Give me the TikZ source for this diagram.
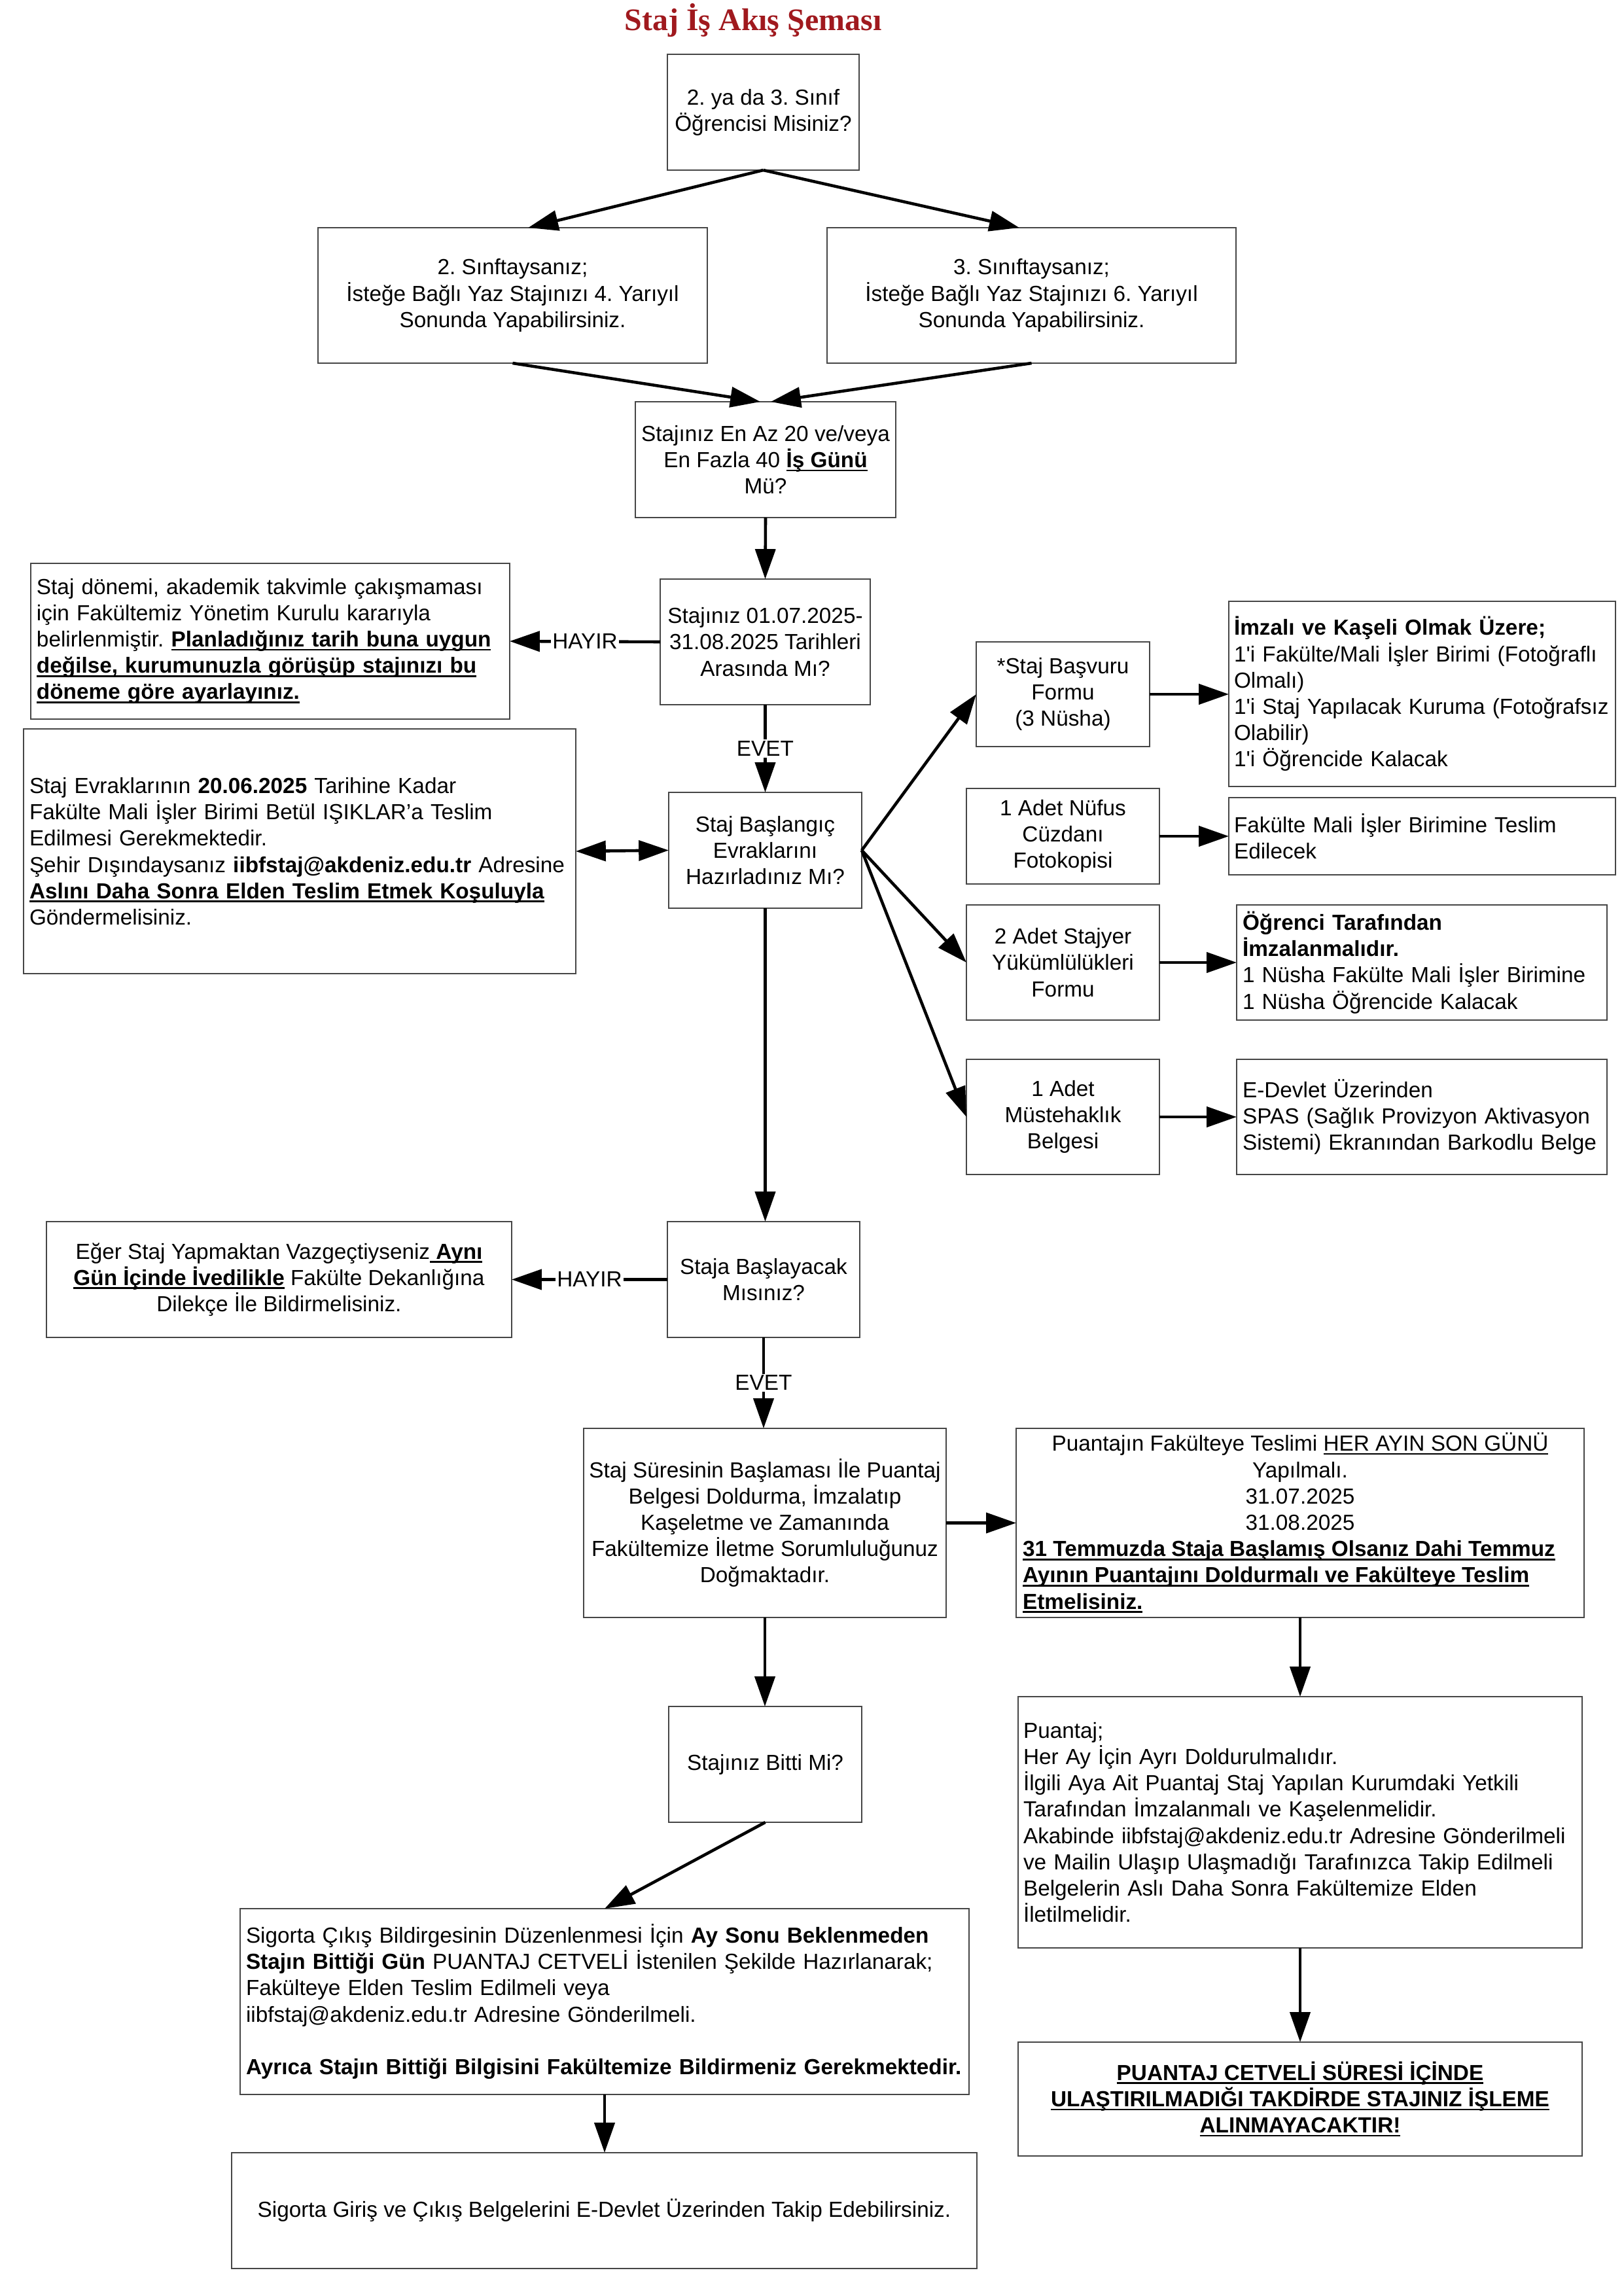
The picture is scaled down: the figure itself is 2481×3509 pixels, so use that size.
\documentclass[tikz,border=0pt]{standalone}
\usepackage{fontspec}
\setmainfont{Liberation Sans}
\newfontfamily\titlefont{Liberation Serif}
\newfontfamily\plainfont{Liberation Sans}
\usetikzlibrary{arrows.meta,calc}
\definecolor{titlered}{RGB}{160,25,30}
\definecolor{boxline}{RGB}{70,70,70}
\frenchspacing
\newsavebox\ulbox
\newcommand{\myul}[1]{\leavevmode\sbox\ulbox{#1}\rlap{\rule[-1.3pt]{\wd\ulbox}{0.5pt}}\usebox\ulbox}
\newcommand{\ub}[1]{\leavevmode\sbox\ulbox{\textbf{#1}}\rlap{\rule[-1.4pt]{\wd\ulbox}{0.65pt}}\usebox\ulbox}
\newcommand{\apo}{{\plainfont'}}
\newcommand{\mkbox}[6]{\node[box,#6,minimum width={(#4-#2)*0.24pt},minimum height={(#5-#3)*0.24pt}] (#1) at ({(#2+#4)/2},{(#3+#5)/2})}
\begin{document}
\begin{tikzpicture}[x=0.24pt,y=-0.24pt,
  font=\fontsize{8}{9.65}\selectfont\frenchspacing,
  box/.style={draw=boxline,line width=0.4pt,inner sep=0pt,outer sep=0pt,align=center},
  lbox/.style={box,align=left},
  arr/.style={line width=1.1pt,-{Triangle[length=11pt,width=7.4pt]}},
  dbl/.style={line width=1.1pt,{Triangle[length=11pt,width=7.4pt]}-{Triangle[length=11pt,width=7.4pt]}},
  lbl/.style={fill=white,inner sep=0.6pt}]
\useasboundingbox (0,0) rectangle (2481,3509);

\node[font=\titlefont\bfseries\fontsize{11.5}{13}\selectfont,text=titlered] (title) at (1151,31) {Staj İş Akış Şeması};

\mkbox{b1}{1020}{83}{1313}{260}{} {2. ya da 3. Sınıf\\Öğrencisi Misiniz?};
\mkbox{b2}{486}{348}{1081}{555}{} {2. Sınftaysanız;\\İsteğe Bağlı Yaz Stajınızı 4. Yarıyıl\\Sonunda Yapabilirsiniz.};
\mkbox{b3}{1264}{348}{1889}{555}{} {3. Sınıftaysanız;\\İsteğe Bağlı Yaz Stajınızı 6. Yarıyıl\\Sonunda Yapabilirsiniz.};
\mkbox{b4}{971}{614}{1369}{791}{} {Stajınız En Az 20 ve/veya\\En Fazla 40 \ub{İş Günü}\\Mü?};
\mkbox{donem}{47}{861}{779}{1099}{lbox,text width={(732-18)*0.24pt}} {Staj dönemi, akademik takvimle çakışmaması\\için Fakültemiz Yönetim Kurulu kararıyla\\belirlenmiştir. \ub{Planladığınız tarih buna uygun}\\\ub{değilse, kurumunuzla görüşüp stajınızı bu}\\\ub{döneme göre ayarlayınız.}};
\mkbox{tarih}{1009}{885}{1330}{1077}{} {Stajınız 01.07.2025-\\31.08.2025 Tarihleri\\Arasında Mı?};
\mkbox{evrak}{36}{1114}{880}{1488}{lbox,text width={(844-18)*0.24pt}} {Staj Evraklarının \textbf{20.06.2025} Tarihine Kadar\\Fakülte Mali İşler Birimi Betül IŞIKLAR’a Teslim\\Edilmesi Gerekmektedir.\\Şehir Dışındaysanız \textbf{iibfstaj@akdeniz.edu.tr} Adresine\\\ub{Aslını Daha Sonra Elden Teslim Etmek Koşuluyla}\\Göndermelisiniz.};
\mkbox{basl}{1022}{1211}{1317}{1388}{} {Staj Başlangıç\\Evraklarını\\Hazırladınız Mı?};
\mkbox{basv}{1492}{981}{1757}{1141}{} {*Staj Başvuru\\Formu\\(3 Nüsha)};
\mkbox{imza}{1878}{919}{2469}{1202}{lbox,text width={(591-16)*0.24pt}} {\textbf{İmzalı ve Kaşeli Olmak Üzere;}\\1\apo i Fakülte/Mali İşler Birimi (Fotoğraflı\\Olmalı)\\1\apo i Staj Yapılacak Kuruma (Fotoğrafsız\\Olabilir)\\1\apo i Öğrencide Kalacak};
\mkbox{nufus}{1477}{1205}{1772}{1351}{} {1 Adet Nüfus\\Cüzdanı\\Fotokopisi};
\mkbox{fak}{1878}{1219}{2469}{1337}{lbox,text width={(591-16)*0.24pt}} {Fakülte Mali İşler Birimine Teslim\\Edilecek};
\mkbox{adet2}{1477}{1383}{1772}{1559}{} {2 Adet Stajyer\\Yükümlülükleri\\Formu};
\mkbox{ogr}{1890}{1383}{2456}{1559}{lbox,text width={(566-18)*0.24pt}} {\textbf{Öğrenci Tarafından}\\\textbf{İmzalanmalıdır.}\\1 Nüsha Fakülte Mali İşler Birimine\\1 Nüsha Öğrencide Kalacak};
\mkbox{must}{1477}{1619}{1772}{1795}{} {1 Adet\\Müstehaklık\\Belgesi};
\mkbox{edev}{1890}{1619}{2456}{1795}{lbox,text width={(566-18)*0.24pt}} {E-Devlet Üzerinden\\SPAS (Sağlık Provizyon Aktivasyon\\Sistemi) Ekranından Barkodlu Belge};
\mkbox{eger}{71}{1867}{782}{2044}{} {Eğer Staj Yapmaktan Vazgeçtiyseniz\ub{ Aynı}\\\ub{Gün İçinde İvedilikle} Fakülte Dekanlığına\\Dilekçe İle Bildirmelisiniz.};
\mkbox{staja}{1020}{1867}{1314}{2044}{} {Staja Başlayacak\\Mısınız?};
\mkbox{sure}{892}{2183}{1446}{2472}{} {Staj Süresinin Başlaması İle Puantaj\\Belgesi Doldurma, İmzalatıp\\Kaşeletme ve Zamanında\\Fakültemize İletme Sorumluluğunuz\\Doğmaktadır.};
\mkbox{puan1}{1553}{2183}{2421}{2472}{} {Puantajın Fakülteye Teslimi \myul{HER AYIN SON GÜNÜ}\\Yapılmalı.\\31.07.2025\\31.08.2025\\\makebox[203.5pt][l]{\ub{31 Temmuzda Staja Başlamış Olsanız Dahi Temmuz}}\\\makebox[203.5pt][l]{\ub{Ayının Puantajını Doldurmalı ve Fakülteye Teslim}}\\\makebox[203.5pt][l]{\ub{Etmelisiniz.}}};
\mkbox{puan2}{1556}{2593}{2418}{2977}{lbox,text width={(862-16)*0.24pt}} {Puantaj;\\Her Ay İçin Ayrı Doldurulmalıdır.\\İlgili Aya Ait Puantaj Staj Yapılan Kurumdaki Yetkili\\Tarafından İmzalanmalı ve Kaşelenmelidir.\\Akabinde iibfstaj@akdeniz.edu.tr Adresine Gönderilmeli\\ve Mailin Ulaşıp Ulaşmadığı Tarafınızca Takip Edilmeli\\Belgelerin Aslı Daha Sonra Fakültemize Elden\\İletilmelidir.};
\mkbox{cetvel}{1556}{3121}{2418}{3295}{} {\ub{PUANTAJ CETVELİ SÜRESİ İÇİNDE}\\\ub{ULAŞTIRILMADIĞI TAKDİRDE STAJINIZ İŞLEME}\\\ub{ALINMAYACAKTIR!}};
\mkbox{bitti}{1022}{2608}{1317}{2785}{} {Stajınız Bitti Mi?};
\mkbox{cikis}{367}{2917}{1481}{3201}{lbox,text width={(1114-18)*0.24pt}} {Sigorta Çıkış Bildirgesinin Düzenlenmesi İçin \textbf{Ay Sonu Beklenmeden}\\\textbf{Stajın Bittiği Gün} PUANTAJ CETVELİ İstenilen Şekilde Hazırlanarak;\\Fakülteye Elden Teslim Edilmeli veya\\iibfstaj@akdeniz.edu.tr Adresine Gönderilmeli.\\[9.65pt]\textbf{Ayrıca Stajın Bittiği Bilgisini Fakültemize Bildirmeniz Gerekmektedir.}};
\mkbox{giris}{354}{3290}{1493}{3467}{} {Sigorta Giriş ve Çıkış Belgelerini E-Devlet Üzerinden Takip Edebilirsiniz.};

\draw[arr] (b1.south) -- ($(b2.north west)!0.54!(b2.north east)$);
\draw[arr] (b1.south) -- ($(b3.north west)!0.47!(b3.north east)$);
\draw[arr] (b2.south) -- ($(b4.north)+(-8,0)$);
\draw[arr] (b3.south) -- ($(b4.north)+(8,0)$);
\draw[arr] (b4.south) -- (tarih.north);
\draw[arr] (tarih.west) -- node[lbl]{HAYIR} (donem.east);
\draw[arr] (tarih.south) -- node[lbl]{EVET} (basl.north);
\draw[dbl] (evrak.east) -- (basl.west);
\draw[arr] (basl.east) -- (basv.west);
\draw[arr] (basl.east) -- (adet2.west);
\draw[arr] (basl.east) -- (must.west);
\draw[arr] (basv.east) -- (basv.east -| imza.west);
\draw[arr] (nufus.east) -- (nufus.east -| fak.west);
\draw[arr] (adet2.east) -- (adet2.east -| ogr.west);
\draw[arr] (must.east) -- (must.east -| edev.west);
\draw[arr] (basl.south) -- (basl.south |- staja.north);
\draw[arr] (staja.west) -- node[lbl]{HAYIR} (eger.east);
\draw[arr] (staja.south) -- node[lbl]{EVET} (staja.south |- sure.north);
\draw[arr] (sure.east) -- (puan1.west);
\draw[arr] (sure.south) -- (sure.south |- bitti.north);
\draw[arr] (puan1.south) -- (puan2.north);
\draw[arr] (puan2.south) -- (cetvel.north);
\draw[arr] (bitti.south) -- (cikis.north);
\draw[arr] (cikis.south) -- (cikis.south |- giris.north);
\end{tikzpicture}
\end{document}
